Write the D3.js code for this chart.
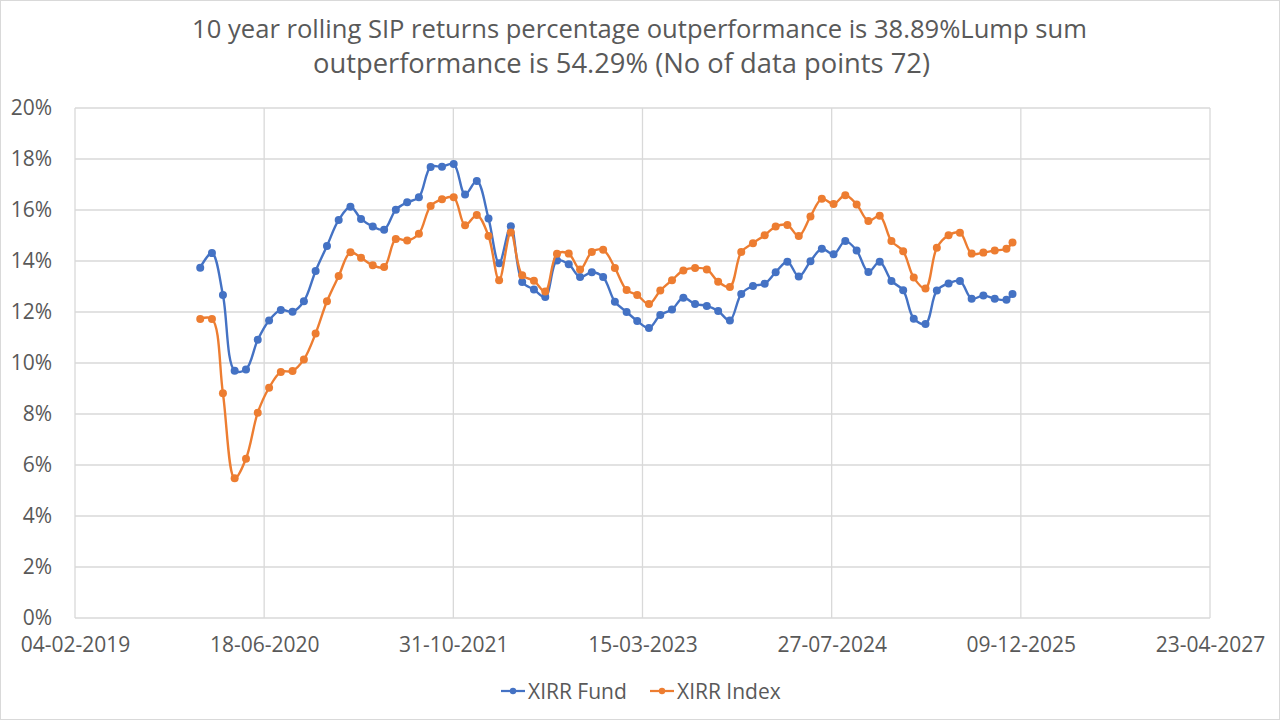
<!DOCTYPE html>
<html>
<head>
<meta charset="utf-8">
<script src="https://cdn.jsdelivr.net/npm/d3@7"></script>
<style>
  body { margin: 0; background: #fff; }
  svg { display: block; font-family: "Open Sans", sans-serif; }
</style>
</head>
<body>
<svg></svg>
<script>
var width = 1280;
var height = 720;

// monthly observation dates (last one is mid-month)
var dates = [
  "2020-01-01", "2020-02-01", "2020-03-01", "2020-04-01", "2020-05-01", "2020-06-01",
  "2020-07-01", "2020-08-01", "2020-09-01", "2020-10-01", "2020-11-01", "2020-12-01",
  "2021-01-01", "2021-02-01", "2021-03-01", "2021-04-01", "2021-05-01", "2021-06-01",
  "2021-07-01", "2021-08-01", "2021-09-01", "2021-10-01", "2021-11-01", "2021-12-01",
  "2022-01-01", "2022-02-01", "2022-03-01", "2022-04-01", "2022-05-01", "2022-06-01",
  "2022-07-01", "2022-08-01", "2022-09-01", "2022-10-01", "2022-11-01", "2022-12-01",
  "2023-01-01", "2023-02-01", "2023-03-01", "2023-04-01", "2023-05-01", "2023-06-01",
  "2023-07-01", "2023-08-01", "2023-09-01", "2023-10-01", "2023-11-01", "2023-12-01",
  "2024-01-01", "2024-02-01", "2024-03-01", "2024-04-01", "2024-05-01", "2024-06-01",
  "2024-07-01", "2024-08-01", "2024-09-01", "2024-10-01", "2024-11-01", "2024-12-01",
  "2025-01-01", "2025-02-01", "2025-03-01", "2025-04-01", "2025-05-01", "2025-06-01",
  "2025-07-01", "2025-08-01", "2025-09-01", "2025-10-01", "2025-11-01", "2025-11-17"
];

// XIRR in percent
var xirrFund = [
  13.74, 14.31, 12.67, 9.70, 9.75, 10.91, 11.67, 12.08, 12.01, 12.42,
  13.61, 14.59, 15.61, 16.13, 15.65, 15.35, 15.23, 16.01, 16.30, 16.50,
  17.69, 17.70, 17.80, 16.61, 17.14, 15.67, 13.91, 15.36, 13.18, 12.88,
  12.59, 14.02, 13.87, 13.37, 13.56, 13.37, 12.40, 12.00, 11.65, 11.37,
  11.88, 12.10, 12.56, 12.31, 12.24, 12.04, 11.67, 12.71, 13.02, 13.11,
  13.56, 13.97, 13.39, 13.99, 14.48, 14.26, 14.78, 14.41, 13.57, 13.97,
  13.22, 12.85, 11.74, 11.53, 12.84, 13.12, 13.22, 12.52, 12.65, 12.52, 12.48, 12.71
];
var xirrIndex = [
  11.73, 11.73, 8.81, 5.48, 6.25, 8.05, 9.03, 9.65, 9.69, 10.14,
  11.16, 12.42, 13.41, 14.34, 14.13, 13.83, 13.76, 14.86, 14.80, 15.07,
  16.16, 16.42, 16.50, 15.40, 15.80, 14.98, 13.25, 15.12, 13.44, 13.23,
  12.80, 14.28, 14.29, 13.67, 14.35, 14.44, 13.73, 12.86, 12.67, 12.31,
  12.84, 13.25, 13.63, 13.73, 13.67, 13.19, 12.98, 14.35, 14.70, 15.01,
  15.35, 15.41, 14.98, 15.75, 16.44, 16.24, 16.58, 16.22, 15.57, 15.77,
  14.78, 14.38, 13.35, 12.92, 14.52, 15.01, 15.11, 14.29, 14.33, 14.41, 14.48, 14.73
];

var xTicks = ["2019-02-04", "2020-06-18", "2021-10-31", "2023-03-15", "2024-07-27", "2025-12-09", "2027-04-23"];
var yTicks = [0, 2, 4, 6, 8, 10, 12, 14, 16, 18, 20];

var titleLines = [
  "10 year rolling SIP returns percentage outperformance is 38.89%Lump sum",
  "outperformance is 54.29% (No of data points 72)"
];

var series = [
  { name: "XIRR Fund", values: xirrFund, color: "#4472C4" },
  { name: "XIRR Index", values: xirrIndex, color: "#ED7D31" }
];

var parse = d3.utcParse("%Y-%m-%d");
var fmt = d3.utcFormat("%d-%m-%Y");
var textColor = "#595959";
var gridColor = "#d9d9d9";

const svg = d3.select("svg")
    .attr("width", width)
    .attr("height", height);

svg.append("rect")
    .attr("x", 0.5).attr("y", 0.5)
    .attr("width", width - 1).attr("height", height - 1)
    .attr("fill", "#fff")
    .attr("stroke", gridColor);

const x = d3.scaleUtc()
    .domain([parse(xTicks[0]), parse(xTicks[xTicks.length - 1])])
    .range([75, 1210]);
const y = d3.scaleLinear()
    .domain([0, 20])
    .range([618, 108]);

// gridlines
svg.append("g")
    .selectAll("line.h")
    .data(yTicks)
    .join("line")
    .attr("x1", 75).attr("x2", 1210)
    .attr("y1", d => y(d)).attr("y2", d => y(d))
    .attr("stroke", gridColor).attr("stroke-width", 1.3);
svg.append("g")
    .selectAll("line.v")
    .data(xTicks)
    .join("line")
    .attr("x1", d => x(parse(d))).attr("x2", d => x(parse(d)))
    .attr("y1", y(0)).attr("y2", y(20))
    .attr("stroke", gridColor).attr("stroke-width", 1.3);

// axes
const yAxis = svg.append("g")
    .attr("transform", "translate(75,0)")
    .call(d3.axisLeft(y).tickValues(yTicks).tickSize(0).tickPadding(23).tickFormat(d => d + "%"));
const xAxis = svg.append("g")
    .attr("transform", `translate(0,${y(0)})`)
    .call(d3.axisBottom(x).tickValues(xTicks.map(parse)).tickSize(0).tickPadding(19).tickFormat(fmt));
[xAxis, yAxis].forEach(a => {
    a.select(".domain").remove();
    a.selectAll("text")
        .attr("fill", textColor)
        .style("font-size", "21px")
        .style("font-family", "'Open Sans', sans-serif");
});

// lines and markers
const line = d3.line()
    .x((d, i) => x(parse(dates[i])))
    .y(d => y(d))
    .curve(d3.curveCatmullRom);

series.forEach(s => {
    svg.append("path")
        .attr("d", line(s.values))
        .attr("fill", "none")
        .attr("stroke", s.color)
        .attr("stroke-width", 2.4);
    svg.append("g")
        .selectAll("circle")
        .data(s.values)
        .join("circle")
        .attr("cx", (d, i) => x(parse(dates[i])))
        .attr("cy", d => y(d))
        .attr("r", 4)
        .attr("fill", s.color);
});

// title, fitted to the reference widths
var titleSpec = [
    { cx: 639.5, yb: 38, w: 895 },
    { cx: 621.5, yb: 73, w: 617 }
];
titleLines.forEach((t, i) => {
    const el = svg.append("text")
        .attr("x", titleSpec[i].cx)
        .attr("y", titleSpec[i].yb)
        .attr("text-anchor", "middle")
        .attr("fill", textColor)
        .style("font-size", "24px")
        .text(t);
    const len = el.node().getComputedTextLength();
    el.style("font-size", (24 * titleSpec[i].w / len).toFixed(2) + "px");
});

// legend
var legendX = [501, 650];
const legend = svg.append("g");
series.forEach((s, i) => {
    const g = legend.append("g").attr("transform", `translate(${legendX[i]},691)`);
    g.append("line")
        .attr("x1", 0).attr("x2", 24)
        .attr("stroke", s.color).attr("stroke-width", 2.25);
    g.append("circle").attr("cx", 12).attr("r", 3.2).attr("fill", s.color);
    g.append("text")
        .attr("x", 27).attr("y", 8)
        .attr("fill", textColor)
        .style("font-size", "21px")
        .text(s.name);
});
</script>
</body>
</html>
